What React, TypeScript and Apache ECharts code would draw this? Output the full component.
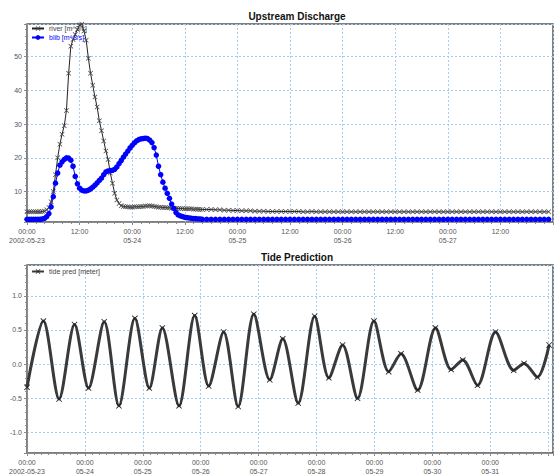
import React, { useEffect, useRef } from "react";
import * as echarts from "echarts";

// ---- Data -------------------------------------------------------------
const FONT = "'Liberation Sans', Arial, sans-serif";

const dayLabels = ["2002-05-23", "05-24", "05-25", "05-26", "05-27", "05-28", "05-29", "05-30", "05-31", "06-01"];
const midnightLabel = "00:00";
const noonLabel = "12:00";

// Upstream discharge, half-hourly from 05-23 00:00 to 05-24 16:00 (hours 0..40)
const riverEarly = [
  4.0, 4.0, 4.0, 4.0, 4.0, 4.0, 4.0, 4.1, 4.2, 4.6,
  5.3, 7.0, 10, 15, 20, 24, 27, 29.5, 34, 45,
  53, 55, 56.5, 58, 59.3, 59.5, 57.5, 54.8, 49.5, 45,
  41.5, 38, 35, 31, 28, 25, 22, 19.5, 15.5, 12.5,
  9.5, 7.5, 6.5, 5.8, 5.6, 5.5, 5.5, 5.4, 5.4, 5.5,
  5.5, 5.5, 5.6, 5.6, 5.7, 5.7, 5.8, 5.7, 5.6, 5.5,
  5.4, 5.4, 5.3, 5.3, 5.2, 5.2, 5.1, 5.1, 5.0, 5.0,
  5.0, 5.0, 4.9, 4.9, 4.9, 4.9, 4.8, 4.8, 4.8, 4.7,
  4.7,
];
const blibEarly = [
  1.8, 1.8, 1.8, 1.8, 1.8, 1.8, 1.8, 1.9, 2.1, 2.6,
  3.5, 5.5, 8.5, 12.5, 15.5, 17.8, 18.8, 19.5, 20, 19.9,
  19.3, 17.5, 14.5, 12.3, 11, 10.4, 10.2, 10.2, 10.4, 10.8,
  11.3, 11.9, 12.6, 13.3, 14, 15, 15.8, 16.1, 16.2, 16.3,
  16.6, 17.3, 18.3, 19.2, 20.2, 21.1, 22, 22.9, 23.7, 24.4,
  25, 25.4, 25.6, 25.7, 25.8, 25.7, 25.2, 24.5, 23, 20.8,
  17.5, 15, 12.8, 11, 9.5, 8, 6.3, 5, 3.8, 3.1,
  2.8, 2.6, 2.4, 2.3, 2.2, 2.1, 2.0, 2.0, 1.9, 1.9,
  1.8,
];
// Hourly from hour 41 to hour 119
const riverLate = [
  4.7, 4.7, 4.6, 4.6, 4.5, 4.5, 4.4, 4.4, 4.3, 4.3,
  4.3, 4.2, 4.2, 4.2, 4.1, 4.1, 4.1, 4.1, 4.1, 4.1,
  4.1, 4.1, 4.0, 4.0, 4.1, 4.0, 4.0, 4.0, 4.0, 4.0,
  4.0, 4.0, 4.0, 4.0, 4.0, 4.0, 4.0, 4.0, 4.0, 4.0,
  4.0, 4.0, 4.0, 4.0, 4.0, 4.0, 4.0, 4.0, 4.0, 4.0,
  4.0, 4.0, 4.0, 4.0, 4.0, 4.0, 4.0, 4.0, 4.0, 4.0,
  4.0, 4.0, 4.0, 4.0, 4.0, 4.0, 4.0, 4.0, 4.0, 4.0,
  4.0, 4.0, 4.0, 4.0, 4.0, 4.0, 4.0, 4.0, 4.0,
];
const blibLate = [
  1.8, 1.8, 1.8, 1.8, 1.8, 1.8, 1.8, 1.8, 1.8, 1.8,
  1.8, 1.8, 1.8, 1.8, 1.8, 1.8, 1.8, 1.8, 1.8, 1.8,
  1.8, 1.8, 1.8, 1.8, 1.8, 1.8, 1.8, 1.8, 1.8, 1.8,
  1.8, 1.8, 1.8, 1.8, 1.8, 1.8, 1.8, 1.8, 1.8, 1.8,
  1.8, 1.8, 1.8, 1.8, 1.8, 1.8, 1.8, 1.8, 1.8, 1.8,
  1.8, 1.8, 1.8, 1.8, 1.8, 1.8, 1.8, 1.8, 1.8, 1.8,
  1.8, 1.8, 1.8, 1.8, 1.8, 1.8, 1.8, 1.8, 1.8, 1.8,
  1.8, 1.8, 1.8, 1.8, 1.8, 1.8, 1.8, 1.8, 1.8,
];

// Tide prediction: turning points (hours since 05-23 00:00, metres)
const tideHours = [
  0, 6.8, 13.3, 19.7, 25.5, 32, 38.1, 44.7, 50.7, 56.1,
  63, 69.5, 75.3, 81.5, 87.5, 94, 100.6, 106, 112.4, 119.2,
  125.1, 130.8, 137, 143.8, 149.9, 155, 161.9, 169.3, 175.8, 180.6,
  186.7, 194.2, 201.7, 206, 211.5, 216.4,
];
const tideLevels = [
  -0.34, 0.63, -0.51, 0.58, -0.35, 0.62, -0.61, 0.67, -0.35, 0.53,
  -0.61, 0.71, -0.32, 0.47, -0.62, 0.73, -0.23, 0.37, -0.57, 0.7,
  -0.2, 0.28, -0.5, 0.63, -0.11, 0.15, -0.38, 0.53, -0.08, 0.06,
  -0.31, 0.47, -0.09, 0.01, -0.19, 0.28,
];

// ---- Build points ------------------------------------------------------
const EARLY_STEP = 0.5;
const LATE_START = 41;
const toPts = (early: number[], late: number[]) => [
  ...early.map((v, i) => [i * EARLY_STEP, v]),
  ...late.map((v, i) => [LATE_START + i, v]),
];
const riverPts = toPts(riverEarly, riverLate);
const blibPts = toPts(blibEarly, blibLate);
const tidePts = tideHours.map((h, i) => [h, tideLevels[i]]);

const CROSS = "path://M1,0L5,4L9,0L10,1L6,5L10,9L9,10L5,6L1,10L0,9L4,5L0,1Z";

const gridLine = { show: true, lineStyle: { color: "#a6cdef", type: [2, 2], width: 1 } };
const axisGray = "#8a8a8a";
const labelStyle = { fontSize: 7, color: "#555", fontFamily: FONT };

function xLabel(limit: number) {
  return (v: number) => {
    if (v >= limit) return "";
    const h = Math.round(v) % 24;
    const d = Math.floor(Math.round(v) / 24);
    if (h === 12) return noonLabel;
    return midnightLabel + "\n" + dayLabels[d];
  };
}

export default function App() {
  const ref = useRef<HTMLDivElement>(null);
  useEffect(() => {
    document.body.style.margin = "0";
    const chart = echarts.init(ref.current!, undefined, { renderer: "svg" });
    const baseX = {
      type: "value",
      axisLine: { show: true, onZero: false, lineStyle: { color: axisGray } },
      axisTick: { show: true, length: 3, lineStyle: { color: axisGray } },
      splitLine: gridLine,
    };
    const baseY = {
      type: "value",
      axisLine: { show: true, lineStyle: { color: axisGray } },
      axisTick: { show: true, length: 3, lineStyle: { color: axisGray } },
      minorTick: { show: true, splitNumber: 5, length: 2, lineStyle: { color: axisGray } },
      splitLine: gridLine,
      axisLabel: { ...labelStyle, margin: 5, showMinLabel: false, showMaxLabel: false },
    };
    chart.setOption({
      animation: false,
      textStyle: { fontFamily: FONT },
      title: [
        { text: "Upstream Discharge", left: 292, top: 6, textAlign: "center", textStyle: { fontSize: 10, fontWeight: "bold", color: "#111", fontFamily: FONT } },
        { text: "Tide Prediction", left: 292, top: 247, textAlign: "center", textStyle: { fontSize: 10, fontWeight: "bold", color: "#111", fontFamily: FONT } },
      ],
      legend: [
        {
          data: [
            { name: "river [m^3/s]", textStyle: { color: "#444" } },
            { name: "blib [m^3/s]", textStyle: { color: "#0000ff" } },
          ],
          left: 31, top: 25, orient: "vertical", itemWidth: 12, itemHeight: 6, itemGap: 2, padding: 0,
          textStyle: { fontSize: 7, fontFamily: FONT },
        },
        {
          data: [{ name: "tide pred [meter]", textStyle: { color: "#444" } }],
          left: 31, top: 268, orient: "vertical", itemWidth: 12, itemHeight: 6, padding: 0,
          textStyle: { fontSize: 7, fontFamily: FONT },
        },
      ],
      grid: [
        { left: 27, right: -4, top: 24, bottom: 254, show: true, borderColor: "#555", borderWidth: 1.5 },
        { left: 27, right: -5, top: 265, bottom: 23, show: true, borderColor: "#555", borderWidth: 1.5 },
      ],
      xAxis: [
        {
          ...baseX, gridIndex: 0, min: 0, max: 120, interval: 12,
          minorTick: { show: true, splitNumber: 6, length: 2, lineStyle: { color: axisGray } },
          axisLabel: { ...labelStyle, margin: 5, lineHeight: 9, formatter: xLabel(120) },
        },
        {
          ...baseX, gridIndex: 1, min: 0, max: 218, interval: 24,
          minorTick: { show: true, splitNumber: 8, length: 2, lineStyle: { color: axisGray } },
          axisLabel: { ...labelStyle, margin: 5, lineHeight: 9, formatter: xLabel(216) },
        },
      ],
      yAxis: [
        { ...baseY, gridIndex: 0, min: 1, max: 59.6 },
        { ...baseY, gridIndex: 1, min: -1.3, max: 1.45, axisLabel: { ...baseY.axisLabel, formatter: (v: number) => v.toFixed(1) } },
      ],
      series: [
        {
          name: "river [m^3/s]", type: "line", xAxisIndex: 0, yAxisIndex: 0, data: riverPts,
          symbol: CROSS, symbolSize: 5, showAllSymbol: true,
          lineStyle: { color: "#222", width: 1 }, itemStyle: { color: "#444" }, color: "#333",
        },
        {
          name: "blib [m^3/s]", type: "line", xAxisIndex: 0, yAxisIndex: 0, data: blibPts,
          symbol: "circle", symbolSize: 5.5, showAllSymbol: true,
          lineStyle: { color: "#0000ff", width: 1 }, itemStyle: { color: "#0000ff" }, color: "#0000ff",
        },
        {
          name: "tide pred [meter]", type: "line", xAxisIndex: 1, yAxisIndex: 1, data: tidePts,
          smooth: 0.3, symbol: CROSS, symbolSize: 6, showAllSymbol: true,
          lineStyle: { color: "#3a3a3a", width: 3 }, itemStyle: { color: "#222" }, color: "#333",
        },
      ],
    });
    return () => chart.dispose();
  }, []);
  return <div ref={ref} style={{ width: 556, height: 476 }} />;
}
